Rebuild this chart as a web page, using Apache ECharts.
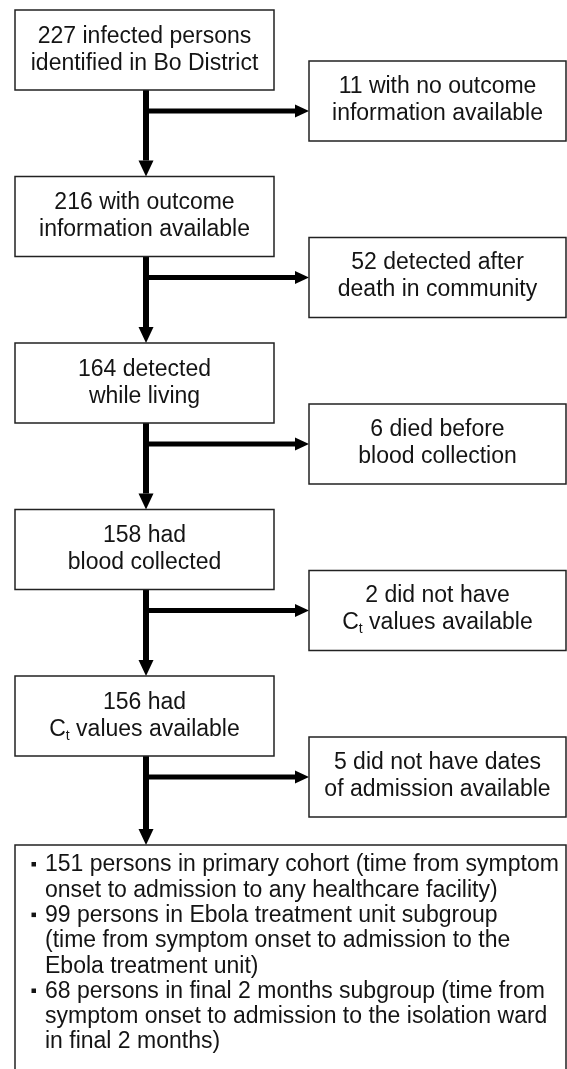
<!DOCTYPE html>
<html><head><meta charset="utf-8">
<script src="https://cdn.jsdelivr.net/npm/echarts@6/dist/echarts.min.js"></script>
<style>html,body{margin:0;padding:0;background:#fff}#c{width:567px;height:1069px}</style>
</head><body><div id="c"></div>
<script>
// ---- data ----
const steps = [0, 1, 2, 3, 4];
const retainedCounts = [227, 216, 164, 158, 156];
const retainedLabels = [
  'infected persons\nidentified in Bo District',
  'with outcome\ninformation available',
  'detected\nwhile living',
  'had\nblood collected',
  'had\nC_t values available'
];
const excludedCounts = [11, 52, 6, 2, 5];
const excludedLabels = [
  'with no outcome\ninformation available',
  'detected after\ndeath in community',
  'died before\nblood collection',
  'did not have\nC_t values available',
  'did not have dates\nof admission available'
];
const cohortCounts = [151, 99, 68];
const cohortLabels = [
  'persons in primary cohort (time from symptom\nonset to admission to any healthcare facility)',
  'persons in Ebola treatment unit subgroup\n(time from symptom onset to admission to the\nEbola treatment unit)',
  'persons in final 2 months subgroup (time from\nsymptom onset to admission to the isolation ward\nin final 2 months)'
];

// ---- layout / style ----
const W = 567, H = 1069, STEP = 166.5, TOP0 = 10;
const LEFT_X0 = 15, LEFT_X1 = 274, RIGHT_X0 = 309, RIGHT_X1 = 566, STEM_X = 146;
const BOX_H = 80, EXCL_OFF = 61, ARROW_OFF = 101;
const excludedShift = [-10, 0, 0, 0, 0];
const INK = '#141414', BORDER = '#222';
const FONT = 'Liberation Sans, Arial, Helvetica, sans-serif';
const rich = { s: { fontSize: 14, fontFamily: FONT, fill: INK, verticalAlign: 'bottom', lineHeight: 14 } };
const toRich = s => s.replace(/C_t/g, 'C{s|t}');

function textEl(text, x, y, align, lh) {
  return {
    type: 'text',
    style: {
      text: text, x: x, y: y, align: align, verticalAlign: 'middle',
      fontSize: 23, fontFamily: FONT, fill: INK, lineHeight: lh, rich: rich
    }
  };
}
function boxEl(x0, y0, x1, y1) {
  return { type: 'rect', shape: { x: x0, y: y0, width: x1 - x0, height: y1 - y0 },
           style: { fill: '#fff', stroke: BORDER, lineWidth: 1.5 } };
}

const chart = echarts.init(document.getElementById('c'), null, { renderer: 'canvas' });
chart.setOption({
  backgroundColor: '#fff',
  animation: false,
  grid: { left: 0, right: 0, top: 0, bottom: 0 },
  xAxis: { type: 'value', min: 0, max: W, show: false },
  yAxis: { type: 'value', min: -TOP0 / STEP, max: (H - TOP0) / STEP, inverse: true, show: false },
  series: [
    { // arrows (drawn first, under boxes)
      type: 'custom', coordinateSystem: 'cartesian2d', silent: true,
      data: steps.map(i => [STEM_X, i]),
      renderItem: function (params, api) {
        const i = api.value(1);
        const top = api.coord([STEM_X, i])[1];
        const nextTop = api.coord([STEM_X, i + 1])[1] + (i === steps.length - 1 ? 2.5 : 0);
        const sx = api.coord([STEM_X, i])[0];
        const ay = top + ARROW_OFF;
        const rx = api.coord([RIGHT_X0, i])[0];
        return { type: 'group', children: [
          { type: 'rect', shape: { x: sx - 3, y: top + BOX_H, width: 6, height: nextTop - 16 - top - BOX_H }, style: { fill: '#000' } },
          { type: 'polygon', shape: { points: [[sx - 7.5, nextTop - 16], [sx + 7.5, nextTop - 16], [sx, nextTop]] }, style: { fill: '#000' } },
          { type: 'rect', shape: { x: sx, y: ay - 2.5, width: rx - 14 - sx, height: 5 }, style: { fill: '#000' } },
          { type: 'polygon', shape: { points: [[rx - 14, ay - 6.5], [rx - 14, ay + 6.5], [rx, ay]] }, style: { fill: '#000' } }
        ]};
      }
    },
    { // retained boxes
      type: 'custom', coordinateSystem: 'cartesian2d', silent: true,
      data: steps.map(i => [LEFT_X0, i, retainedCounts[i]]),
      renderItem: function (params, api) {
        const i = api.value(1);
        const p0 = api.coord([LEFT_X0, i]);
        const x1 = api.coord([LEFT_X1, i])[0];
        const txt = toRich(api.value(2) + ' ' + retainedLabels[i]);
        return { type: 'group', children: [
          boxEl(p0[0], p0[1], x1, p0[1] + BOX_H),
          textEl(txt, (p0[0] + x1) / 2, p0[1] + BOX_H / 2, 'center', 27)
        ]};
      }
    },
    { // excluded boxes
      type: 'custom', coordinateSystem: 'cartesian2d', silent: true,
      data: steps.map(i => [RIGHT_X0, i, excludedCounts[i]]),
      renderItem: function (params, api) {
        const i = api.value(1);
        const p0 = api.coord([RIGHT_X0, i]);
        const x1 = api.coord([RIGHT_X1, i])[0];
        const y0 = p0[1] + EXCL_OFF + excludedShift[i];
        const txt = toRich(api.value(2) + ' ' + excludedLabels[i]);
        return { type: 'group', children: [
          boxEl(p0[0], y0, x1, y0 + BOX_H),
          textEl(txt, (p0[0] + x1) / 2, y0 + BOX_H / 2 - 1, 'center', 27)
        ]};
      }
    },
    { // final cohort box
      type: 'custom', coordinateSystem: 'cartesian2d', silent: true,
      data: [[LEFT_X0, steps.length]],
      renderItem: function (params, api) {
        const p0 = api.coord([LEFT_X0, api.value(1)]);
        const x1 = api.coord([RIGHT_X1, 0])[0];
        const top = p0[1] + 2.5;
        const children = [boxEl(p0[0], top, x1, H + 20)];
        const LH = 25.3;
        let line = 0;
        cohortCounts.forEach((c, k) => {
          const lines = (c + ' ' + cohortLabels[k]).split('\n');
          const cy = top + 20 + line * LH;
          children.push({ type: 'rect', shape: { x: p0[0] + 16.5, y: cy - 3, width: 4.5, height: 4.5 }, style: { fill: INK } });
          lines.forEach((ln, j) => {
            children.push(textEl(ln, p0[0] + 30, top + 20 + (line + j) * LH, 'left', LH));
          });
          line += lines.length;
        });
        return { type: 'group', children: children };
      }
    }
  ]
});
</script></body></html>
